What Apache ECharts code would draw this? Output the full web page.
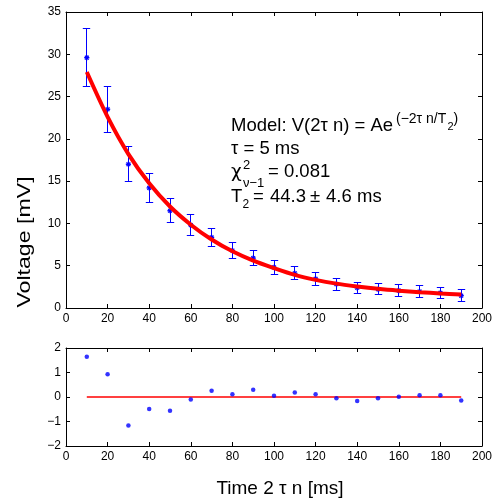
<!DOCTYPE html>
<html><head><meta charset="utf-8">
<script src="https://cdn.jsdelivr.net/npm/echarts@6/dist/echarts.min.js"></script>
<style>html,body{margin:0;padding:0;background:#fff}#c{width:501px;height:502px}</style>
</head><body><div id="c"></div>
<script>
// ---- data ----
const times     = [10, 20, 30, 40, 50, 60, 70, 80, 90, 100, 110, 120, 130, 140, 150, 160, 170, 180, 190];
const voltage   = [29.6, 23.5, 17.0, 14.2, 11.5, 9.8, 8.35, 6.8, 5.9, 4.8, 4.1, 3.44, 2.83, 2.39, 2.22, 2.06, 1.94, 1.79, 1.46];
const errors    = [3.4, 2.7, 2.05, 1.75, 1.4, 1.25, 1.1, 1.0, 0.9, 0.8, 0.77, 0.75, 0.71, 0.68, 0.67, 0.67, 0.69, 0.65, 0.69];
const fitCurve  = [27.9, 22.6, 18.2, 14.75, 12.0, 9.85, 8.1, 6.7, 5.6, 4.72, 3.92, 3.33, 2.88, 2.55, 2.27, 2.05, 1.87, 1.72, 1.6];
const residuals = [1.64, 0.93, -1.16, -0.49, -0.56, -0.10, 0.26, 0.11, 0.30, 0.05, 0.18, 0.11, -0.05, -0.16, -0.05, 0.01, 0.07, 0.07, -0.14];
const xRange    = [0, 200, 20];
const yTopRange = [0, 35, 5];
const yResRange = [-2, 2, 1];

const FONT = "'Liberation Sans', Arial, Helvetica, sans-serif";
const chart = echarts.init(document.getElementById('c'), null, {renderer: 'canvas'});

function mkAxis(extra) {
  return Object.assign({
    axisLine: {show: true, onZero: false, lineStyle: {color: '#000', width: 1}},
    axisTick: {show: true, inside: true, length: 4, lineStyle: {color: '#000', width: 1}},
    splitLine: {show: false},
    axisLabel: {color: '#000', fontSize: 12, fontFamily: FONT, margin: 5,
      formatter: v => String(v).replace('-', '\u2212')}
  }, extra);
}
const noLabel = {show: false};
const blue = '#0000ff', red = '#ff0000';
const crisp = v => Math.round(v - 0.5) + 0.5;

function txt(x, y, text, size, family) {
  return {type: 'text', x, y, silent: true,
    style: {text, font: size + 'px ' + (family || FONT), fill: '#000', textAlign: 'left', textVerticalAlign: 'middle'}};
}

const option = {
  animation: false,
  backgroundColor: '#fff',
  grid: [
    {left: 66, width: 416, top: 12, height: 296},
    {left: 66, width: 416, top: 348, height: 98}
  ],
  xAxis: [
    mkAxis({type: 'value', gridIndex: 0, position: 'bottom', min: xRange[0], max: xRange[1], interval: xRange[2]}),
    mkAxis({type: 'value', gridIndex: 0, position: 'top', min: xRange[0], max: xRange[1], interval: xRange[2], axisLabel: noLabel}),
    mkAxis({type: 'value', gridIndex: 1, position: 'bottom', min: xRange[0], max: xRange[1], interval: xRange[2]}),
    mkAxis({type: 'value', gridIndex: 1, position: 'top', min: xRange[0], max: xRange[1], interval: xRange[2], axisLabel: noLabel})
  ],
  yAxis: [
    mkAxis({type: 'value', gridIndex: 0, position: 'left', min: yTopRange[0], max: yTopRange[1], interval: yTopRange[2]}),
    mkAxis({type: 'value', gridIndex: 0, position: 'right', min: yTopRange[0], max: yTopRange[1], interval: yTopRange[2], axisLabel: noLabel}),
    mkAxis({type: 'value', gridIndex: 1, position: 'left', min: yResRange[0], max: yResRange[1], interval: yResRange[2]}),
    mkAxis({type: 'value', gridIndex: 1, position: 'right', min: yResRange[0], max: yResRange[1], interval: yResRange[2], axisLabel: noLabel})
  ],
  series: [
    {
      type: 'custom', xAxisIndex: 0, yAxisIndex: 0, z: 2,
      data: times.map((t, i) => [t, voltage[i] - errors[i], voltage[i] + errors[i], voltage[i]]),
      renderItem(params, api) {
        const x = api.value(0);
        const lo = api.coord([x, api.value(1)]);
        const hi = api.coord([x, api.value(2)]);
        const m = api.coord([x, api.value(3)]);
        const cx = crisp(lo[0]), ly = crisp(lo[1]), hy = crisp(hi[1]);
        const cw = 3.7, s = 2.6, d = 1.9;
        const style = {stroke: blue, lineWidth: 1, fill: null};
        const L = (x1, y1, x2, y2, w) => ({type: 'line', shape: {x1, y1, x2, y2}, style: Object.assign({}, style, w ? {lineWidth: w} : {})});
        return {type: 'group', children: [
          L(cx, ly, cx, hy),
          L(cx - cw, ly, cx + cw, ly),
          L(cx - cw, hy, cx + cw, hy),
          L(m[0] - s, m[1], m[0] + s, m[1], 1.4),
          L(m[0], m[1] - s, m[0], m[1] + s, 1.4),
          L(m[0] - d, m[1] - d, m[0] + d, m[1] + d, 1.2),
          L(m[0] - d, m[1] + d, m[0] + d, m[1] - d, 1.2)
        ]};
      }
    },
    {
      type: 'line', xAxisIndex: 0, yAxisIndex: 0, z: 3,
      data: times.map((t, i) => [t, fitCurve[i]]),
      smooth: 0.3, showSymbol: false, symbol: 'none',
      lineStyle: {color: red, width: 4}
    },
    {
      type: 'custom', xAxisIndex: 2, yAxisIndex: 2, z: 2,
      itemStyle: {color: red},
      data: [[times[0], 0, times[times.length - 1]]],
      renderItem(params, api) {
        const a = api.coord([api.value(0), api.value(1)]);
        const b = api.coord([api.value(2), api.value(1)]);
        return {type: 'rect', shape: {x: a[0], y: a[1] - 0.75, width: b[0] - a[0], height: 1.5}, style: {fill: red, stroke: null}};
      }
    },
    {
      type: 'scatter', xAxisIndex: 2, yAxisIndex: 2, z: 3,
      data: times.map((t, i) => [t, residuals[i]]),
      symbol: 'circle', symbolSize: 4.5,
      itemStyle: {color: blue}
    }
  ],
  graphic: [
    {type: 'text', x: 25, y: 242, rotation: Math.PI / 2, scaleX: 1.25, silent: true,
      style: {text: 'Voltage [mV]', font: '18.5px ' + FONT, fill: '#000', textAlign: 'center', textVerticalAlign: 'middle'}},
    {type: 'text', x: 280, y: 489, silent: true,
      style: {text: 'Time 2 \u03c4 n [ms]', font: '19px ' + FONT, fill: '#000', textAlign: 'center', textVerticalAlign: 'middle'}},
    // annotation block
    txt(231, 125.5, 'Model: V(2\u03c4 n) = Ae', 18.5),
    txt(396, 119.5, '(\u22122\u03c4 n/T', 14),
    txt(447.5, 127, '2', 11),
    txt(453.5, 119.5, ')', 14),
    txt(231, 148.5, '\u03c4 = 5 ms', 18.5),
    txt(231, 172, '\u03c7', 18.5, "'DejaVu Sans', sans-serif"),
    txt(243, 165, '2', 13),
    txt(243, 183.5, '\u03bd\u22121', 13),
    txt(268, 172, '= 0.081', 18.5),
    txt(231, 197, 'T', 18.5),
    txt(242.5, 205, '2', 12),
    txt(253, 197, '=', 18.5),
    txt(270, 197, '44.3', 18.5),
    txt(310, 197, '\u00b1', 18.5),
    txt(326, 197, '4.6', 18.5),
    txt(357, 197, 'ms', 18.5)
  ]
};
chart.setOption(option);
</script>
</body></html>
